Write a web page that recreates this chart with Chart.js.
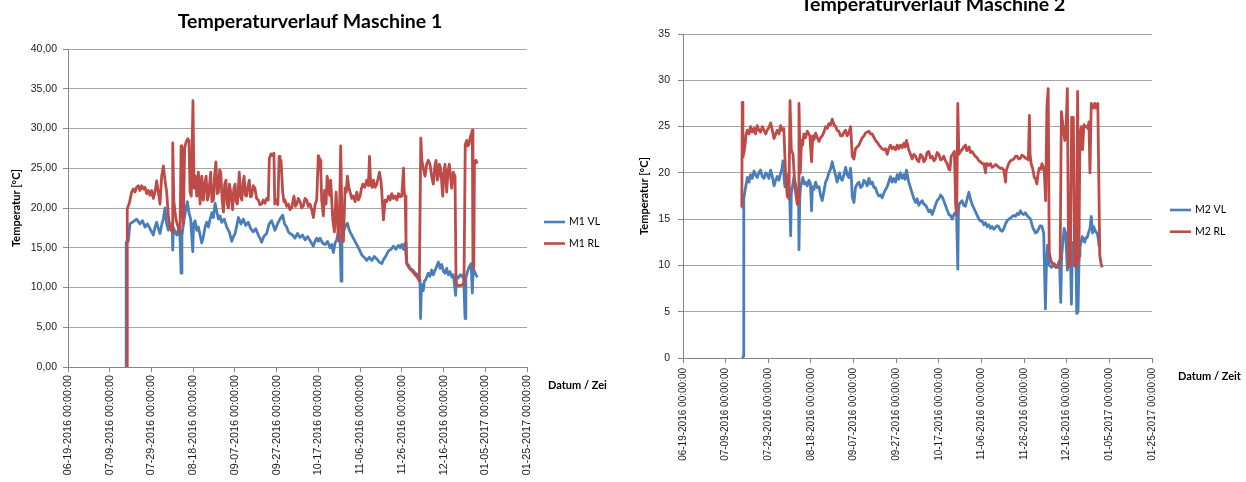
<!DOCTYPE html>
<html>
<head>
<meta charset="utf-8">
<script src="https://cdn.jsdelivr.net/npm/chart.js@4.4.1/dist/chart.umd.min.js"></script>
<style>
html,body{margin:0;padding:0;background:#fff;}
#wrap{position:relative;width:1246px;height:482px;overflow:hidden;background:#fff;}
.box{position:absolute;top:0;height:482px;overflow:hidden;}
</style>
</head>
<body>
<div id="wrap">
  <div class="box" style="left:0;width:607px"><canvas id="c1" width="620" height="482"></canvas></div>
  <div class="box" style="left:620px;width:626px"><canvas id="c2" width="626" height="482"></canvas></div>
</div>
<script>
// ---------- categories / tick labels ----------
const xTickLabels = ['06-19-2016 00:00:00','07-09-2016 00:00:00','07-29-2016 00:00:00','08-18-2016 00:00:00',
  '09-07-2016 00:00:00','09-27-2016 00:00:00','10-17-2016 00:00:00','11-06-2016 00:00:00',
  '11-26-2016 00:00:00','12-16-2016 00:00:00','01-05-2017 00:00:00','01-25-2017 00:00:00'];
const yTicksM1 = ['0,00','5,00','10,00','15,00','20,00','25,00','30,00','35,00','40,00'];
const yTicksM2 = ['0','5','10','15','20','25','30','35'];

// ---------- Maschine 1 (x = days since 06-19-2016) ----------
const m1VLDays = [27.3,27.8,27.9,28.9,29.7,31.3,32.9,34.5,35.7,36.9,38.1,39.3,40.9,41.7,42.5,43.3,44.1,45.0,45.7,46.5,47.3,48.1,49.2,50.0,50.2,50.5,51.4,52.1,53.0,53.7,54.2,54.6,55.6,56.6,57.2,58.0,58.8,59.8,60.2,60.9,61.7,62.5,63.3,64.1,64.9,65.7,66.5,67.3,68.1,69.0,69.7,70.5,71.3,72.1,72.9,73.7,74.9,76.1,77.3,78.5,79.3,80.1,80.9,81.7,82.9,84.0,85.2,86.4,87.6,88.8,90.0,91.2,92.0,92.8,93.8,95.2,96.4,97.6,99.2,100.4,101.6,102.9,103.8,104.8,105.6,106.4,107.6,108.8,110.0,111.2,112.4,113.6,114.8,116.0,117.6,118.4,119.2,120.0,120.8,122.0,123.2,124.4,125.6,126.4,127.2,128.0,128.8,129.6,130.4,130.9,131.3,132.0,132.8,133.9,134.8,136.0,137.2,138.4,139.6,140.8,142.0,143.2,144.4,145.6,146.8,148.0,149.2,150.4,151.2,152.0,152.8,153.6,154.8,156.0,157.2,158.4,159.2,160.0,160.8,161.6,162.0,162.4,163.2,164.0,165.2,166.4,167.6,168.7,169.0,169.4,170.3,170.8,171.5,172.7,173.5,174.3,175.1,176.3,177.5,178.3,179.1,180.0,180.7,181.5,182.3,183.1,184.0,184.7,185.8,186.2,187.1,188.0,188.7,189.6,190.3,190.7,191.5,192.3,193.2,193.8,194.2,194.9,195.5,196.2];
const m1VL = [0,0,15.7,15.8,18.0,18.3,18.6,18.0,18.4,17.6,18.0,17.4,16.6,17.6,18.2,17.4,16.8,18.0,18.6,20.0,18.0,17.2,18.0,17.6,14.7,17.5,17.0,16.6,17.4,16.2,11.8,16.5,18.5,20.0,20.8,19.4,18.6,14.5,18.0,18.4,17.2,17.6,16.6,15.6,16.4,17.6,18.2,17.6,18.6,19.4,18.8,20.6,19.6,18.6,19.0,18.2,18.6,17.6,17.0,15.8,16.4,16.8,17.8,18.8,18.0,18.6,17.8,18.2,17.4,17.0,17.4,16.6,16.2,15.7,16.4,16.8,18.0,18.4,17.2,18.0,18.6,19.1,18.0,17.6,17.0,16.8,16.6,16.2,16.8,16.3,16.6,16.0,16.4,15.9,15.2,15.8,16.2,15.8,16.2,15.6,15.4,15.8,15.0,15.4,14.4,15.6,16.0,17.2,16.4,10.8,16.2,17.0,17.6,18.1,17.2,16.6,16.0,15.4,14.8,14.1,13.8,13.4,13.8,13.4,13.9,13.6,13.2,13.0,13.5,13.8,14.2,14.6,14.8,15.2,14.8,15.3,15.0,15.4,14.8,15.6,14.0,13.0,12.8,12.4,12.2,11.8,11.6,11.0,6.1,10.4,9.6,10.8,11.0,11.8,11.4,12.2,11.6,12.4,13.2,12.4,12.9,12.0,11.8,12.4,11.6,12.0,11.3,11.6,9.0,11.4,11.2,11.6,11.4,11.6,6.1,11.2,12.0,12.6,13.0,9.3,12.4,12.0,11.6,11.3];

const m1RLDays = [27.5,28.3,28.4,29.4,30.5,31.3,32.1,32.9,33.7,34.5,35.3,36.1,36.9,37.7,38.5,39.3,40.1,40.9,41.7,42.5,43.3,44.1,44.9,45.7,46.5,47.3,48.1,48.9,49.9,50.2,50.7,51.3,51.8,52.9,53.7,54.2,54.6,55.3,55.9,56.6,57.4,58.0,58.5,59.1,59.9,60.4,61.1,61.7,62.5,63.3,64.1,64.9,65.5,66.2,66.8,67.3,68.4,69.0,69.7,70.3,70.9,71.5,72.1,72.7,73.2,73.9,74.5,75.1,75.7,76.3,76.9,77.4,78.0,78.9,79.5,80.1,80.6,81.2,82.1,82.7,83.3,83.9,84.4,85.0,85.6,86.3,86.9,87.5,88.0,88.8,89.6,90.4,91.2,92.0,92.8,93.6,94.4,95.2,96.0,96.5,97.3,98.1,98.7,99.1,100.0,100.6,101.2,101.6,102.1,102.9,103.5,104.0,104.8,105.6,106.4,107.2,107.8,108.3,109.0,109.6,110.4,111.2,112.0,112.8,113.6,114.4,115.2,116.0,116.8,117.6,118.4,119.2,120.0,120.8,121.2,121.6,122.4,123.0,123.7,124.2,124.8,125.4,125.9,126.9,127.7,128.5,129.3,129.9,130.7,131.1,131.4,132.0,132.8,133.4,133.9,134.6,135.2,136.0,136.8,137.6,138.4,139.2,140.0,140.6,141.3,142.2,143.2,144.0,144.5,145.1,145.8,146.4,147.2,148.0,148.7,149.3,150.0,150.4,151.2,152.0,152.8,153.6,154.4,155.2,156.0,156.8,157.6,158.4,159.2,160.0,160.8,161.2,161.6,162.0,162.4,163.2,164.0,165.2,166.4,167.6,168.4,169.1,169.6,170.3,171.1,171.9,172.7,173.5,174.3,175.1,175.8,176.4,177.0,177.5,178.0,178.6,179.6,180.2,180.7,181.5,182.2,182.8,183.9,184.7,185.5,186.0,187.1,188.7,189.8,190.4,191.1,191.6,192.2,192.7,193.5,193.8,194.1,194.5,194.8,195.5,196.2];
const m1RL = [0,0,19.9,20.6,22.0,22.4,22.0,22.6,22.8,22.2,22.8,22.4,22.6,21.8,22.2,21.6,22.2,21.2,22.0,23.4,22.0,20.5,24.0,25.3,23.5,22.0,19.0,17.5,17.0,28.2,21.0,19.5,18.5,17.5,16.8,27.8,22.0,18.0,27.5,28.3,28.7,28.5,22.0,21.5,33.5,22.5,24.0,21.5,24.5,20.5,24.0,21.0,23.0,24.0,21.0,21.5,24.5,20.8,21.0,24.2,25.8,21.8,22.0,24.8,24.5,21.0,19.5,23.0,23.5,20.5,20.0,23.0,22.0,19.8,22.5,23.0,20.8,20.5,24.5,21.5,21.0,23.2,24.0,21.6,21.5,22.8,23.5,21.4,21.5,22.8,22.5,21.2,21.0,20.4,20.5,21.0,20.6,21.2,21.0,26.2,26.8,26.6,26.9,20.5,21.0,20.4,26.5,25.6,26.0,22.0,20.8,21.0,20.2,20.5,19.8,20.0,20.8,21.5,20.2,20.5,21.2,20.8,20.0,20.3,21.2,21.0,20.2,20.5,19.8,18.8,20.4,21.0,26.6,26.0,24.5,21.0,19.0,22.2,20.5,24.0,23.0,21.6,23.5,18.5,17.0,22.0,17.5,15.8,27.8,21.6,17.0,15.8,22.5,22.0,24.0,22.6,22.0,21.2,21.5,20.8,22.0,21.0,21.5,22.4,23.0,22.6,23.5,22.8,26.5,23.0,22.6,23.5,22.6,23.0,23.8,24.5,23.4,22.0,18.5,21.0,20.8,21.5,21.0,21.8,21.2,21.5,21.0,21.8,21.4,21.5,25.0,21.8,21.5,16.0,13.0,12.6,12.3,12.0,11.6,11.2,10.8,28.8,26.0,25.0,24.0,25.5,26.0,25.5,24.0,23.0,25.2,26.0,23.5,24.0,25.5,25.0,21.5,24.5,25.5,22.0,24.8,25.5,22.5,24.5,24.0,10.5,10.2,10.3,10.5,28.0,28.5,27.8,28.0,28.8,29.5,29.8,12.4,12.6,25.5,26.0,25.6];

// ---------- Maschine 2 ----------
const m2VLDays = [27.9,28.3,28.5,29.4,30.2,31.0,31.7,32.5,33.3,34.0,34.8,35.6,36.4,37.2,38.0,38.8,39.5,40.3,41.1,41.9,42.7,43.5,44.2,45.0,45.8,46.4,46.9,47.4,47.8,48.4,48.9,49.5,50.0,50.5,50.8,51.4,52.0,52.8,53.6,54.2,54.4,54.8,55.2,55.7,56.2,56.9,57.5,58.3,59.1,59.8,60.3,60.7,61.4,62.2,63.0,63.8,64.5,65.3,66.1,66.9,67.7,68.4,69.2,70.0,70.6,71.3,72.3,72.9,73.4,74.0,74.7,75.5,76.3,77.0,77.8,78.6,79.0,79.4,80.2,80.9,81.7,82.5,83.3,84.1,84.9,85.6,86.4,87.2,88.0,88.8,89.6,90.3,91.1,91.9,92.7,93.4,94.2,95.0,95.8,96.5,97.3,98.1,98.9,99.7,100.5,101.2,102.0,102.8,103.6,104.2,104.8,105.4,105.9,106.7,107.5,108.3,109.1,109.8,110.6,111.4,112.2,113.0,113.8,114.5,115.3,116.1,116.9,117.7,118.4,119.2,120.0,120.8,121.6,122.3,123.1,123.9,124.7,125.5,126.3,126.8,127.3,128.3,128.9,129.2,129.5,130.2,130.9,131.7,132.5,133.3,134.1,134.8,135.6,136.4,137.2,138.0,138.8,139.5,140.3,141.1,141.9,142.7,143.4,144.2,145.0,145.8,146.6,147.3,148.1,148.9,149.7,150.5,151.3,152.0,152.8,153.6,154.4,155.2,156.0,156.7,157.5,158.3,159.0,159.8,160.6,161.4,162.2,163.0,163.6,164.2,164.8,165.3,166.1,166.9,167.6,168.4,169.2,170.0,170.4,171.0,171.8,172.9,174.1,175.0,175.7,176.6,177.2,177.6,178.0,178.8,179.5,180.3,180.7,181.1,181.7,182.2,182.6,182.9,183.7,184.3,184.7,185.3,185.8,186.2,186.8,187.3,188.4,189.0,189.6,190.3,190.9,191.5,192.1,192.6,193.0,193.7,194.3,194.7,195.2];
const m2VL = [0,0.2,17.2,18.5,19.5,19.0,19.8,19.4,20.2,19.8,19.5,20.0,20.3,19.6,19.4,20.0,19.8,19.4,20.3,19.6,18.6,19.2,19.6,19.2,20.0,20.4,21.3,19.5,18.5,19.2,19.8,18.8,18.0,13.2,17.8,18.6,19.5,18.8,18.0,17.6,11.7,17.5,18.5,19.0,19.5,18.8,19.0,18.6,19.2,18.8,15.9,18.5,18.2,19.0,18.4,18.5,17.6,17.0,18.0,19.0,19.4,20.0,20.4,21.2,20.6,20.0,19.0,19.6,20.0,19.4,19.2,19.8,20.6,19.8,19.5,20.5,19.4,17.4,16.8,18.4,18.8,19.0,18.4,18.6,19.2,19.0,18.6,19.4,18.8,19.0,18.4,18.4,17.8,17.5,17.6,17.3,17.8,18.2,18.5,19.0,19.6,19.0,19.4,19.0,19.8,19.3,20.0,19.4,19.8,19.3,20.3,19.6,19.0,18.4,17.8,17.2,16.8,17.2,16.5,16.8,17.0,16.6,16.5,16.2,15.8,16.0,15.5,16.0,16.5,17.0,17.2,17.6,17.4,17.0,16.5,16.0,15.5,15.4,15.0,15.3,15.6,15.8,9.6,15.8,16.6,16.8,17.0,16.5,16.4,17.2,17.9,17.2,16.6,16.2,15.8,15.4,15.0,14.8,14.8,14.4,14.6,14.2,14.4,14.0,14.2,13.9,14.1,14.3,14.2,13.8,13.7,14.0,14.5,14.8,15.0,15.1,15.3,15.4,15.3,15.6,15.5,15.9,15.6,15.5,15.7,15.4,15.2,15.0,14.5,14.0,13.8,13.5,13.6,14.0,14.3,14.2,13.5,5.3,9.5,12.2,10.0,9.8,10.2,9.9,10.0,10.5,6.0,11.0,12.0,14.0,13.5,9.5,11.0,12.0,11.5,5.8,11.0,12.5,10.0,12.0,4.8,5.0,11.0,12.0,12.6,13.1,12.5,13.0,13.0,13.6,14.0,15.3,13.5,14.2,14.0,13.6,13.5,13.0,12.0];

const m2RLDays = [27.3,27.6,27.8,28.1,28.6,29.1,29.6,30.2,31.0,31.7,32.5,33.3,34.0,34.8,35.6,36.4,37.2,38.0,38.8,39.5,40.3,41.1,41.9,42.7,43.5,44.2,45.0,45.8,46.5,47.3,48.1,48.9,49.7,50.2,50.8,51.6,52.5,53.6,54.2,54.4,55.0,55.6,56.1,56.7,57.5,58.3,59.0,59.5,60.3,60.9,61.5,62.2,63.0,63.8,64.5,65.3,66.1,66.9,67.7,68.4,69.2,70.0,70.8,71.6,72.3,73.1,73.9,74.7,75.5,76.3,77.0,77.8,78.6,79.0,79.4,80.2,80.9,81.7,82.5,83.3,84.1,84.9,85.6,86.4,87.2,88.0,88.8,89.6,90.3,91.1,91.9,92.7,93.4,94.2,95.0,95.8,96.5,97.3,98.1,98.9,99.7,100.5,101.2,102.0,102.8,103.6,104.2,104.8,105.4,105.9,106.7,107.5,108.3,109.1,109.8,110.6,111.4,112.2,113.0,113.8,114.5,115.3,116.1,116.9,117.7,118.4,119.2,120.0,120.8,121.6,122.3,123.1,123.9,124.7,125.2,125.8,126.5,127.3,127.9,128.4,128.9,129.4,130.2,130.9,131.7,132.5,133.1,133.6,134.2,134.8,135.6,136.4,137.2,138.0,138.8,139.5,140.3,141.1,141.9,142.3,142.7,143.4,144.2,145.0,145.8,146.6,147.3,148.1,148.9,149.7,150.5,151.3,151.6,152.0,152.8,153.6,154.4,155.2,156.0,156.7,157.5,158.3,159.0,159.8,160.6,161.4,162.0,162.5,162.8,163.3,164.0,164.8,165.3,166.0,166.5,167.1,167.8,168.4,169.0,169.5,170.1,170.7,171.3,171.8,172.6,173.8,174.9,176.1,176.9,177.5,178.3,179.1,179.7,180.3,180.9,181.7,182.3,183.1,183.7,184.5,185.1,185.7,186.2,186.8,187.4,188.1,188.7,189.3,189.9,190.4,190.9,191.5,192.0,192.4,192.8,193.2,193.6,194.0,194.6,195.0,195.5,196.1,196.6];
const m2RL = [16.3,16.5,27.6,21.7,22.2,23.0,24.2,24.6,24.2,25.0,24.4,24.8,24.2,25.1,24.6,24.4,25.0,24.6,24.2,24.6,24.9,25.4,24.6,23.7,24.2,24.6,24.2,25.1,24.6,24.8,20.0,17.5,17.2,27.8,22.5,22.0,18.5,16.6,16.8,27.5,20.0,23.5,23.0,24.2,23.8,24.5,24.2,24.0,21.2,24.0,23.6,24.3,23.8,23.4,23.8,24.0,24.4,25.0,24.8,25.3,25.2,25.8,25.2,25.0,24.6,24.5,24.0,24.0,24.4,24.6,24.0,24.3,25.0,23.5,21.8,21.5,22.6,22.8,23.0,23.4,23.8,24.0,24.3,24.4,24.5,24.2,24.2,23.8,23.5,23.3,23.0,22.8,22.6,22.5,22.6,22.0,22.6,23.0,22.6,22.8,22.5,23.0,22.6,23.0,22.7,23.2,22.8,23.5,23.0,22.5,22.0,21.5,22.0,21.8,21.4,21.2,22.0,21.8,21.2,21.5,22.2,22.3,21.6,21.8,21.3,21.5,22.2,22.0,21.4,21.5,21.8,21.3,21.0,20.4,20.3,21.8,22.0,22.3,16.5,15.5,27.5,22.0,22.3,22.5,22.8,23.0,22.4,22.5,22.8,22.2,22.3,22.0,21.8,21.6,21.3,21.2,21.0,21.0,20.0,21.0,21.0,20.8,21.0,20.6,20.7,20.9,20.8,20.6,20.5,20.5,20.3,19.0,20.2,20.5,21.0,21.3,21.4,21.5,21.8,21.8,21.5,21.6,21.9,21.8,21.6,21.5,21.4,26.2,22.0,21.0,20.5,19.5,19.4,18.8,19.8,20.5,20.4,21.0,20.6,20.0,17.0,27.1,29.1,11.4,10.5,10.0,9.8,9.8,10.5,26.6,25.0,23.5,25.0,29.1,9.8,10.0,26.0,26.0,10.0,9.8,28.8,10.5,24.0,25.0,22.5,25.2,25.0,25.0,24.8,25.5,20.0,27.5,27.2,27.0,27.4,27.5,27.0,27.2,27.5,20.0,11.1,10.2,9.8];

// ---------- colours / fonts ----------
const BLUE = '#4A7EBB', RED = '#BE4B48';
const SANS = "'Liberation Sans', Arial, sans-serif";
const HUM = "Lato, 'Open Sans', sans-serif";

const decorPlugin = {
  id: 'decor',
  afterDraw(chart, args, o) {
    const {ctx, chartArea: a} = chart;
    ctx.save();
    const ds = chart.data.datasets.slice().sort((p, q) => p.legendIndex - q.legendIndex);
    ds.forEach((d, k) => {
      const y = o.legendY + k * o.legendGap;
      const x0 = a.right + o.legendDx;
      ctx.strokeStyle = d.borderColor; ctx.lineWidth = 2.6; ctx.lineCap = 'butt';
      ctx.beginPath(); ctx.moveTo(x0, y); ctx.lineTo(x0 + 21, y); ctx.stroke();
      ctx.fillStyle = '#000'; ctx.font = '10.5px ' + HUM;
      ctx.textBaseline = 'middle'; ctx.textAlign = 'left';
      ctx.fillText(d.label, x0 + 25, y);
    });
    ctx.font = 'bold 11px ' + HUM;
    ctx.fillStyle = '#000'; ctx.textBaseline = 'middle'; ctx.textAlign = 'left';
    ctx.fillText(o.axisLabel, a.right + o.axisDx, a.bottom + o.axisDy);
    ctx.restore();
  }
};

function buildChart(id, spec) {
  const W = spec.width, H = 482;
  const tl = 19.5 * 1.2;
  return new Chart(document.getElementById(id), {
    type: 'line',
    data: {
      datasets: spec.series.map(s => ({
        label: s.label,
        legendIndex: s.legendIndex,
        data: s.days.map((d, i) => ({x: d, y: s.values[i]})),
        borderColor: s.color, backgroundColor: s.color,
        borderWidth: 2.8, pointRadius: 0, tension: 0, fill: false,
        order: s.order, borderJoinStyle: 'round'
      }))
    },
    options: {
      responsive: false, animation: false, events: [],
      layout: {padding: 0},
      plugins: {
        legend: {display: false}, tooltip: {enabled: false},
        title: {
          display: true, text: spec.title, color: '#000',
          font: {family: HUM, size: 19.5, weight: 'bold', lineHeight: 1.2},
          padding: {top: spec.titleCenter - tl / 2, bottom: spec.plotTop - spec.titleCenter - tl / 2}
        },
        decor: spec.decor
      },
      scales: {
        x: {
          type: 'linear', position: 'bottom', min: 0, max: 220,
          afterFit: s => { s.height = H - spec.plotBottom; },
          ticks: {stepSize: 20, autoSkip: false, minRotation: 90, maxRotation: 90,
            padding: spec.xTickPad, color: '#1a1a1a',
            font: {family: SANS, size: spec.xTickSize},
            callback: (v, i) => xTickLabels[i]},
          grid: {display: true, drawOnChartArea: false, drawTicks: true, tickLength: 5, color: '#868686', tickColor: '#868686'},
          border: {display: true, color: '#868686', width: 1}
        },
        y: {
          type: 'linear', position: 'left', min: 0, max: spec.yMax,
          afterFit: s => { s.width = spec.plotLeft; },
          ticks: {stepSize: 5, padding: spec.yTickPad, color: '#1a1a1a',
            font: {family: SANS, size: 10.5},
            callback: (v, i) => spec.yTickLabels[i]},
          grid: {color: '#a6a6a6', tickLength: 5, tickColor: '#868686'},
          border: {display: true, color: '#868686', width: 1},
          title: {display: true, text: 'Temperatur [°C]', color: '#000',
            font: {family: HUM, size: 11, weight: 'bold', lineHeight: 1.2},
            padding: {top: spec.yTitleX - 6.6, bottom: 0}}
        },
        pad: {
          type: 'linear', position: 'right', display: true,
          afterFit: s => { s.width = W - spec.plotRight; },
          ticks: {display: false}, grid: {display: false}, border: {display: false}
        }
      }
    },
    plugins: [decorPlugin]
  });
}

function draw() {
  buildChart('c1', {
    width: 620, plotLeft: 68, plotRight: 527, plotTop: 49, plotBottom: 367,
    title: 'Temperaturverlauf Maschine 1', titleCenter: 22,
    yMax: 40, yTickLabels: yTicksM1, yTickPad: 6, yTitleX: 16,
    xTickPad: 3, xTickSize: 10.8,
    series: [
      {label: 'M1 VL', days: m1VLDays, values: m1VL, color: BLUE, order: 1, legendIndex: 0},
      {label: 'M1 RL', days: m1RLDays, values: m1RL, color: RED, order: 0, legendIndex: 1}
    ],
    decor: {legendY: 222, legendGap: 21.5, legendDx: 17, axisLabel: 'Datum / Zeit', axisDx: 21, axisDy: 18}
  });
  buildChart('c2', {
    width: 626, plotLeft: 63, plotRight: 532, plotTop: 34, plotBottom: 358,
    title: 'Temperaturverlauf Maschine 2', titleCenter: 5,
    yMax: 35, yTickLabels: yTicksM2, yTickPad: 8, yTitleX: 24,
    xTickPad: 5, xTickSize: 10,
    series: [
      {label: 'M2 VL', days: m2VLDays, values: m2VL, color: BLUE, order: 1, legendIndex: 0},
      {label: 'M2 RL', days: m2RLDays, values: m2RL, color: RED, order: 0, legendIndex: 1}
    ],
    decor: {legendY: 210, legendGap: 21.7, legendDx: 18, axisLabel: 'Datum / Zeit', axisDx: 26, axisDy: 18}
  });
}

const fontLoads = ['bold 19.5px Lato', '10px Lato', 'bold 11px Lato', "10px 'Liberation Sans'"].map(f => document.fonts.load(f).catch(() => null));
Promise.race([Promise.all(fontLoads), new Promise(r => setTimeout(r, 800))]).then(draw);
</script>
</body>
</html>
